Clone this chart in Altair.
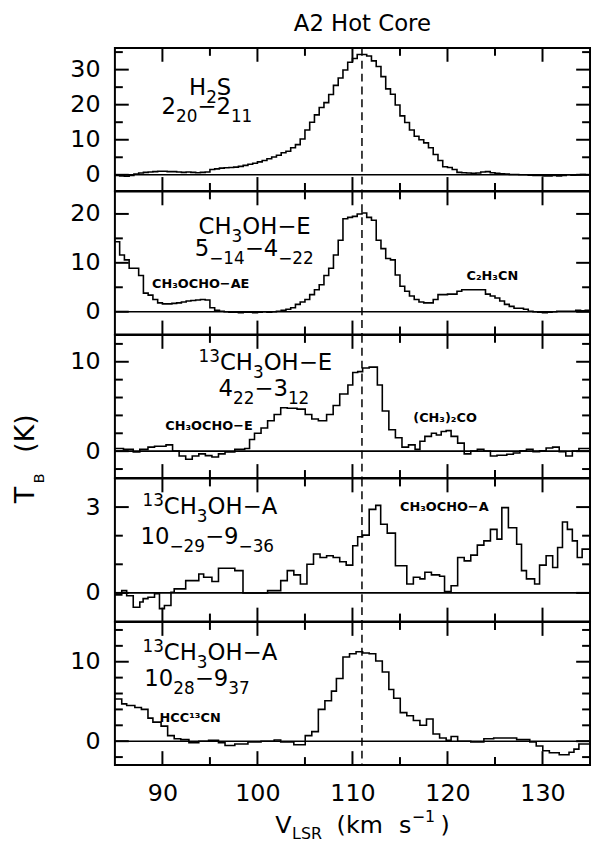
import altair as alt
import numpy as np
import pandas as pd

FONT = "DejaVu Sans"
X_DOMAIN = [85, 135]
X_MAJOR = [90, 100, 110, 120, 130]
X_MINOR = [95, 105, 115, 125]
V_SYS = 111.0

# ---- Panel 1: H2S 2(20)-2(11)  (0.5 km/s channels starting at 85 km/s)
P1_V0, P1_DV = 85.0, 0.5
P1_T = [-0.2, -0.3, -0.4, -0.2, 0.2, 0.5, 0.7, 0.8, 0.9, 1.0,
        1.0, 0.9, 0.9, 0.8, 0.7, 0.8, 0.7, 0.6, 0.7, 0.8,
        1.5, 1.7, 1.9, 2.0, 2.1, 2.2, 2.4, 2.7, 3.0, 3.3,
        3.7, 4.1, 4.6, 5.1, 5.6, 6.3, 6.7, 7.7, 8.6, 10.2,
        12.8, 15.0, 17.1, 19.2, 20.6, 22.9, 25.5, 27.6, 29.9, 32.1,
        33.2, 34.3, 34.3, 33.9, 32.5, 30.9, 28.0, 24.5, 23.0, 19.9,
        16.8, 14.9, 12.8, 11.0, 10.0, 9.1, 7.7, 5.8, 4.1, 2.3,
        2.1, 1.5, 0.7, 0.6, 0.5, 0.4, 0.5, 0.8, 0.9, 0.6,
        0.4, 0.3, 0.2, 0.1, 0.1, 0.0, 0.0, -0.1, -0.2, -0.2,
        -0.3, -0.3, -0.2, -0.3, -0.2, 0.0, -0.1, 0.0, 0.1, 0.0]
P1_YDOM = [-4.6, 36.2]
P1_YMAJ = [0, 10, 20, 30]
P1_YMIN = [5, 15, 25, 35]

# ---- Panel 2: CH3OH-E 5(-1,4)-4(-2,2)
P2_V0, P2_DV = 85.0, 0.5
P2_T = [14.3, 11.6, 10.6, 8.9, 8.9, 7.4, 3.8, 3.4, 2.5, 1.8,
        1.6, 1.6, 1.7, 1.8, 2.0, 2.2, 2.3, 2.4, 2.5, 2.4,
        0.8, 0.3, 0.1, 0.0, -0.1, -0.1, -0.2, -0.1, -0.1, -0.2,
        -0.1, 0.0, -0.1, 0.0, 0.1, 0.3, 0.5, 0.8, 1.5, 2.0,
        2.5, 3.5, 4.5, 5.5, 7.4, 8.9, 11.6, 14.6, 19.0, 19.3,
        19.5, 20.0, 20.2, 19.3, 18.7, 14.6, 12.9, 10.9, 10.6, 7.5,
        5.2, 4.2, 3.2, 2.5, 2.0, 1.8, 1.8, 2.5, 3.5, 3.5,
        3.6, 3.6, 4.2, 4.5, 4.5, 4.5, 4.5, 4.5, 3.6, 3.2,
        2.8, 2.2, 1.5, 1.1, 0.7, 0.7, 0.5, 0.1, 0.0, -0.1,
        -0.2, -0.1, 0.0, 0.1, 0.1, 0.1, 0.1, 0.3, 0.2, 0.3]
P2_YDOM = [-4.65, 24.6]
P2_YMAJ = [0, 10, 20]
P2_YMIN = [5, 15]

# ---- Panel 3: 13CH3OH-E 4(2,2)-3(1,2)  (channel left edges, km/s)
P3_V = [85.0, 85.9, 86.93, 87.62, 88.48, 89.17, 90.38, 91.07, 91.76, 92.45,
        93.14, 93.83, 94.52, 95.21, 95.9, 96.59, 97.62, 98.66, 99.17, 99.69,
        100.38, 101.07, 101.76, 102.45, 103.14, 104.17, 105.03, 105.72, 106.41, 107.28,
        107.97, 108.66, 109.52, 110.03, 110.55, 111.07, 111.76, 112.62, 113.14, 113.83,
        114.52, 115.21, 115.9, 116.59, 117.1, 117.62, 118.31, 118.83, 119.34, 119.86,
        120.38, 121.07, 121.76, 122.45, 123.14, 123.83, 124.52, 125.21, 126.24, 126.93,
        127.62, 128.31, 129.0, 129.69, 130.38, 131.07, 131.76, 132.45, 133.14, 133.83]
P3_T = [0.3, 0.2, -0.1, 0.2, 0.45, 0.55, 0.7, 0.0, -0.55, -0.9,
        -0.55, -0.3, -0.5, -0.65, -0.3, -0.1, 0.2, 0.3, 1.3, 2.0,
        2.6, 3.4, 4.1, 4.85, 4.8, 4.7, 4.1, 3.6, 3.4, 4.1,
        5.1, 6.4, 7.4, 8.8, 8.9, 9.3, 9.4, 7.4, 4.5, 2.4,
        1.5, 0.45, 0.7, 0.2, 1.1, 1.65, 2.0, 1.8, 2.2, 2.3,
        1.65, 0.9, -0.3, 0.0, 0.2, 0.0, -0.55, -0.45, -0.35, -0.2,
        0.05, 0.2, -0.05, 0.05, 0.35, 0.45, -0.05, -0.55, 0.0, 0.3]
P3_YDOM = [-3, 13]
P3_YMAJ = [0, 10]
P3_YMIN = [-2, 2, 4, 6, 8, 12]

# ---- Panel 4: 13CH3OH-A 10(-2,9)-9(-3,6)
P4_V = [85.0, 85.72, 86.24, 86.93, 87.62, 87.97, 88.48, 89.17, 89.69, 90.21,
        90.9, 91.24, 92.45, 93.83, 94.34, 95.21, 95.9, 97.62, 98.48, 100.38,
        101.07, 102.45, 103.14, 103.83, 104.52, 105.21, 105.9, 106.59, 107.28, 107.97,
        108.66, 109.34, 110.03, 110.55, 111.07, 111.76, 112.45, 112.97, 113.66, 114.52,
        115.72, 116.41, 117.1, 117.62, 118.31, 119.17, 119.69, 120.38, 121.07, 121.76,
        122.45, 123.14, 123.83, 124.52, 125.21, 125.72, 126.41, 127.28, 127.79, 128.31,
        129.17, 129.69, 130.38, 131.07, 131.59, 132.1, 132.62, 133.14, 133.66, 134.17]
P4_T = [-0.07, 0.08, -0.1, -0.5, -0.32, -0.2, -0.15, -0.03, -0.55, -0.44,
        0.02, 0.14, 0.43, 0.66, 0.55, 0.4, 0.86, 0.78, 0.0, 0.0,
        0.08, 0.43, 0.78, 0.63, 0.31, 1.0, 1.36, 1.24, 1.3, 1.24,
        1.09, 0.97, 1.65, 1.96, 2.02, 2.92, 3.06, 2.4, 2.09, 0.95,
        0.31, 0.55, 0.49, 0.72, 0.63, 0.58, 0.05, 0.25, 1.24, 1.12,
        1.32, 1.67, 1.82, 2.22, 1.88, 2.98, 2.28, 1.7, 0.78, 0.49,
        0.31, 0.97, 1.3, 0.89, 1.59, 2.48, 2.22, 1.82, 1.24, 1.53]
P4_YDOM = [-1, 4]
P4_YMAJ = [0, 3]
P4_YMIN = [1, 2]

# ---- Panel 5: 13CH3OH-A 10(2,8)-9(3,7)
P5_V = [85.0, 85.72, 86.24, 87.1, 87.79, 88.48, 89.0, 89.86, 90.55, 91.24,
        91.93, 92.79, 93.83, 94.86, 95.9, 96.59, 97.62, 99.0, 100.38, 101.76,
        102.45, 103.83, 105.03, 105.72, 106.41, 107.1, 107.79, 108.31, 109.0, 109.69,
        110.38, 111.07, 111.76, 112.45, 113.14, 113.83, 114.34, 115.03, 115.72, 116.41,
        117.1, 117.79, 118.48, 119.17, 119.86, 120.38, 121.07, 122.45, 123.83, 124.86,
        127.28, 128.66, 129.34, 130.03, 130.72, 131.76, 132.79, 133.31, 133.83]
P5_T = [5.3, 4.7, 4.5, 4.25, 4.0, 2.9, 2.4, 1.9, 0.7, 0.3,
        0.2, -0.2, 0.0, 0.1, -0.2, -0.55, -0.35, -0.1, 0.0, 0.15,
        -0.1, -0.45, 0.7, 1.2, 4.0, 5.1, 6.3, 7.9, 10.6, 11.0,
        11.25, 11.1, 11.0, 10.1, 8.7, 6.5, 5.4, 3.6, 3.2, 2.6,
        2.0, 2.8, 0.9, 0.4, 0.1, 0.6, 0.0, -0.1, 0.3, 0.4,
        0.2, -0.1, -0.6, -1.2, -1.45, -1.7, -1.4, -1.0, -0.35]
P5_YDOM = [-3, 15]
P5_YMAJ = [0, 10]
P5_YMIN = [-2, 2, 4, 6, 8, 12, 14]

# ---- transition labels: list of (segments, velocity, T); segment kind n / sub / sup
P1_BIG = [([("H", "n"), ("2", "sub"), ("S", "n")], 92.8, 22.8),
          ([("2", "n"), ("20", "sub"), ("−2", "n"), ("11", "sub")], 89.9, 17.4)]
P2_BIG = [([("CH", "n"), ("3", "sub"), ("OH−E", "n")], 93.8, 15.9),
          ([("5", "n"), ("−14", "sub"), ("−4", "n"), ("−22", "sub")], 93.4, 11.3)]
P3_BIG = [([("13", "sup"), ("CH", "n"), ("3", "sub"), ("OH−E", "n")], 93.8, 9.1),
          ([("4", "n"), ("22", "sub"), ("−3", "n"), ("12", "sub")], 95.9, 6.2)]
P4_BIG = [([("13", "sup"), ("CH", "n"), ("3", "sub"), ("OH−A", "n")], 87.9, 2.76),
          ([("10", "n"), ("−29", "sub"), ("−9", "n"), ("−36", "sub")], 87.7, 1.71)]
P5_BIG = [([("13", "sup"), ("CH", "n"), ("3", "sub"), ("OH−A", "n")], 87.9, 10.2),
          ([("10", "n"), ("28", "sub"), ("−9", "n"), ("37", "sub")], 88.1, 6.9)]

# ---- blended-line labels (text, velocity, T)
P1_SMALL = ([], [], [])
P2_SMALL = (["CH₃OCHO−AE", "C₂H₃CN"], [88.9, 122.0], [4.85, 6.5])
P3_SMALL = (["CH₃OCHO−E", "(CH₃)₂CO"], [90.3, 116.4], [2.4, 3.3])
P4_SMALL = (["CH₃OCHO−A"], [115.0], [2.86])
P5_SMALL = (["HCC¹³CN"], [89.7], [2.4])

TITLE = "A2 Hot Core"

W, H = 480, 144.5
ONE = pd.DataFrame({"k": [0]})

# DejaVu Sans advance widths (em) used to place sub/superscript pieces
WIDTH_EM = {**{d: 0.636 for d in "0123456789"}, "H": 0.752, "S": 0.635, "C": 0.698,
            "O": 0.787, "E": 0.632, "A": 0.684, "−": 0.838, " ": 0.318}


def twidth(s, size):
    return sum(WIDTH_EM.get(ch, 0.62) for ch in s) * size


def steps(v, t):
    v = list(v) + [X_DOMAIN[1]]
    t = list(t) + [t[-1]]
    return pd.DataFrame({"v": v, "T": t})


def rich(segs, xv, yv, xs, ys, size=23, small=17, shift=8):
    out, dx = [], 0.0
    for s, kind in segs:
        fs = size if kind == "n" else small
        dy = 0 if kind == "n" else (shift if kind == "sub" else -shift)
        out.append(alt.Chart(ONE).mark_text(
            text=s, align="left", baseline="alphabetic", font=FONT, fontSize=fs,
            dx=dx, dy=dy, color="black").encode(
            x=alt.XDatum(xv, type="quantitative", scale=xs, axis=None),
            y=alt.YDatum(yv, type="quantitative", scale=ys, axis=None)))
        dx += twidth(s, fs)
    return out


def ticks_y(vals, length, side, ys):
    if not vals:
        return []
    x0, x1 = (0, length) if side == "left" else (W, W - length)
    return [alt.Chart(pd.DataFrame({"t": vals})).mark_rule(color="black", strokeWidth=2).encode(
        y=alt.Y("t:Q", scale=ys, axis=None), x=alt.value(x0), x2=alt.value(x1))]


def ticks_x(vals, length, side, xs):
    y0, y1 = (0, length) if side == "top" else (H, H - length)
    return [alt.Chart(pd.DataFrame({"t": vals})).mark_rule(color="black", strokeWidth=2).encode(
        x=alt.X("t:Q", scale=xs, axis=None), y=alt.value(y0), y2=alt.value(y1))]


def panel(df, ydom, ymaj, ymin, big, small, bottom=False, extra=()):
    xs = alt.Scale(domain=X_DOMAIN, nice=False, zero=False)
    ys = alt.Scale(domain=ydom, nice=False, zero=False)
    yaxis = alt.Axis(values=ymaj, ticks=False, tickSize=0, domain=False, grid=False,
                     title=None, labelFont=FONT, labelFontSize=24, labelColor="black",
                     labelPadding=15, labelOverlap=False, labelFlush=False, format="d")
    if bottom:
        xaxis = alt.Axis(values=X_MAJOR, ticks=False, tickSize=0, domain=False, grid=False,
                         title=None, labelFont=FONT, labelFontSize=24, labelColor="black",
                         labelPadding=17, labelOverlap=False, labelFlush=False, format="d")
    else:
        xaxis = None
    line = alt.Chart(df).mark_line(interpolate="step-after", color="black",
                                   strokeWidth=1.6, clip=True).encode(
        x=alt.X("v:Q", scale=xs, axis=xaxis),
        y=alt.Y("T:Q", scale=ys, axis=yaxis),
    )
    zero = alt.Chart(ONE).mark_rule(color="black", strokeWidth=1.6).encode(
        y=alt.YDatum(0, type="quantitative", scale=ys, axis=None))
    dash = alt.Chart(ONE).mark_rule(color="black", strokeWidth=1.5, strokeDash=[8, 5]).encode(
        x=alt.XDatum(V_SYS, type="quantitative", scale=xs, axis=None))
    layers = [line, zero, dash]
    for side in ("left", "right"):
        layers += ticks_y(ymaj, 14, side, ys) + ticks_y(ymin, 8, side, ys)
    for side in ("top", "bottom"):
        layers += ticks_x(X_MAJOR, 14, side, xs) + ticks_x(X_MINOR, 8, side, xs)
    for segs, xv, yv in big:
        layers += rich(segs, xv, yv, xs, ys)
    if small[0]:
        sdf = pd.DataFrame({"text": small[0], "x": small[1], "y": small[2]})
        layers.append(alt.Chart(sdf).mark_text(align="left", baseline="alphabetic", font=FONT,
                                               fontSize=13, fontWeight="bold", color="black").encode(
            x=alt.X("x:Q", scale=xs, axis=None),
            y=alt.Y("y:Q", scale=ys, axis=None),
            text="text:N",
        ))
    layers.extend(extra)
    return alt.layer(*layers).resolve_axis(x="independent", y="independent").properties(
        width=W, height=H)


def txt(s, x, y, size=24, angle=0):
    kw = dict(text=s, align="left", baseline="alphabetic", font=FONT, fontSize=size,
              color="black")
    if angle:
        kw["angle"] = angle
    return alt.Chart(ONE).mark_text(**kw).encode(x=alt.value(x), y=alt.value(y))


title = alt.Chart(ONE).mark_text(text=TITLE, align="center", baseline="alphabetic",
                                 font=FONT, fontSize=23, color="black").encode(
    x=alt.value(250), y=alt.value(-17))

ytitle = [txt("T", -82, 170, 27, 270), txt("B", -72, 150, 15, 270),
          txt("(K)", -82, 119, 27, 270)]
xtitle = [txt("V", 162, 213), txt("LSR", 179, 219, 16), txt("(km", 224, 213),
          txt("s", 287, 213), txt("−1", 300, 202, 16), txt(")", 329, 213)]

p1 = panel(steps(P1_V0 + P1_DV * np.arange(len(P1_T)), P1_T), P1_YDOM, P1_YMAJ, P1_YMIN,
           P1_BIG, P1_SMALL, extra=[title])
p2 = panel(steps(P2_V0 + P2_DV * np.arange(len(P2_T)), P2_T), P2_YDOM, P2_YMAJ, P2_YMIN,
           P2_BIG, P2_SMALL)
p3 = panel(steps(P3_V, P3_T), P3_YDOM, P3_YMAJ, P3_YMIN, P3_BIG, P3_SMALL, extra=ytitle)
p4 = panel(steps(P4_V, P4_T), P4_YDOM, P4_YMAJ, P4_YMIN, P4_BIG, P4_SMALL)
p5 = panel(steps(P5_V, P5_T), P5_YDOM, P5_YMAJ, P5_YMIN, P5_BIG, P5_SMALL, bottom=True,
           extra=xtitle)

chart = alt.vconcat(p1, p2, p3, p4, p5, spacing=0, bounds="flush").properties(
    padding={"left": 3, "top": 0, "right": 0, "bottom": 0}
).configure_view(stroke="black", strokeWidth=2)

chart.save("out.html", embed_options={"renderer": "svg", "actions": False})
